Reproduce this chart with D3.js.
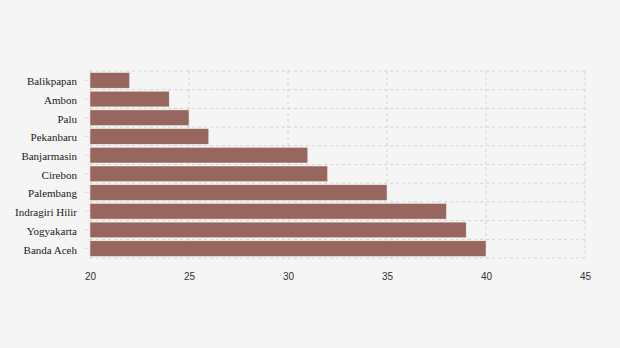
<!DOCTYPE html>
<html><head><meta charset="utf-8">
<script src="https://cdn.jsdelivr.net/npm/d3@7"></script>
<style>
html,body{margin:0;padding:0;background:#f5f5f5;}
svg{display:block;}
.ylab{font-family:"Liberation Serif","Times New Roman",serif;font-size:11px;fill:#1a1a1a;}
</style></head>
<body>
<svg id="c" width="620" height="348"></svg>
<script>
const categories = ["Balikpapan","Ambon","Palu","Pekanbaru","Banjarmasin","Cirebon","Palembang","Indragiri Hilir","Yogyakarta","Banda Aceh"];
const values = [22,24,25,26,31,32,35,38,39,40];
const xTicks = [20,25,30,35,40,45];

const svg = d3.select("#c");
const m = {left:90, right:35, top:71, bottom:90};
const W = 620, H = 348;
const x = d3.scaleLinear().domain([20,45]).range([m.left, W - m.right]);
const y0 = m.top, y1 = H - m.bottom;
const y = d3.scaleBand().domain(categories).range([y0, y1]);
const bandH = y.bandwidth();

const grid = svg.append("g");
const hLines = categories.map(c => y(c)).concat([y1]);
grid.selectAll("line.h").data(hLines).join("line")
  .attr("x1", x(20)).attr("x2", x(45))
  .attr("y1", d => d).attr("y2", d => d)
  .attr("stroke", "#d2d2d2").attr("stroke-dasharray", "3,3");
grid.selectAll("line.v").data(xTicks).join("line")
  .attr("x1", d => x(d)).attr("x2", d => x(d))
  .attr("y1", y0).attr("y2", y1)
  .attr("stroke", "#d2d2d2").attr("stroke-dasharray", "3,3");

svg.append("g").selectAll("rect").data(categories).join("rect")
  .attr("x", x(20))
  .attr("y", d => y(d) + 1.5)
  .attr("width", (d,i) => x(values[i]) - x(20))
  .attr("height", bandH - 3)
  .attr("fill", "#97665e")
  .attr("stroke", "#f5f5f5").attr("stroke-width", 0.5);

const yl = svg.append("g");
categories.forEach(c => {
  const cy = y(c) + bandH / 2;
  yl.append("line").attr("x1", 84).attr("x2", 89).attr("y1", cy).attr("y2", cy).attr("stroke", "#ddd");
  yl.append("text").attr("class", "ylab").attr("x", 77).attr("y", cy + 1).attr("dy", "0.35em")
    .attr("text-anchor", "end").text(c);
});

const xa = svg.append("g").attr("transform", `translate(0,${y1})`)
  .call(d3.axisBottom(x).tickValues(xTicks).tickSize(0).tickPadding(15).tickFormat(d3.format("d")));
xa.select(".domain").remove();
xa.selectAll("text").attr("fill", "#333");
</script>
</body></html>
